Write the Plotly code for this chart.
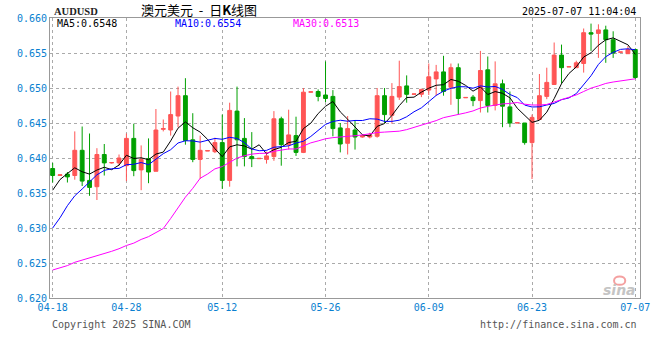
import plotly.graph_objects as go
import pandas as pd

# ---- data ----
dates = (list(pd.date_range("2025-04-18", "2025-05-03").strftime("%Y-%m-%d")) +
         list(pd.date_range("2025-05-05", "2025-07-07").strftime("%Y-%m-%d")))

opens = [0.6385, 0.6375, 0.6377, 0.6375, 0.6411, 0.6368, 0.6359, 0.6405, 0.6393, 0.6393,
         0.6389, 0.6428, 0.6383, 0.6399, 0.6381, 0.6441, 0.6440, 0.6460, 0.6489, 0.6426,
         0.6398, 0.6410, 0.6409, 0.6422, 0.6368, 0.6467, 0.6428, 0.6402, 0.6399, 0.6398,
         0.6402, 0.6456, 0.6419, 0.6432, 0.6408, 0.6494, 0.6495, 0.6490, 0.6488, 0.6443,
         0.6421, 0.6440, 0.6430, 0.6430, 0.6431, 0.6489, 0.6461, 0.6487, 0.6503, 0.6491,
         0.6491, 0.6497, 0.6513, 0.6523, 0.6501, 0.6529, 0.6486, 0.6487, 0.6482, 0.6526,
         0.6475, 0.6506, 0.6473, 0.6450, 0.6450, 0.6422, 0.6455, 0.6488, 0.6505, 0.6547,
         0.6530, 0.6529, 0.6535, 0.6579, 0.6578, 0.6583, 0.6569, 0.6551, 0.6549, 0.6555]
highs = [0.6393, 0.6376, 0.6380, 0.6438, 0.6445, 0.6435, 0.6414, 0.6420, 0.6394, 0.6405,
         0.6435, 0.6449, 0.6418, 0.6428, 0.6470, 0.6455, 0.6495, 0.6502, 0.6514, 0.6464,
         0.6432, 0.6411, 0.6429, 0.6462, 0.6479, 0.6502, 0.6457, 0.6437, 0.63995, 0.6409,
         0.6467, 0.6459, 0.6469, 0.6459, 0.6500, 0.64945, 0.6498, 0.6538, 0.6497, 0.6450,
         0.6460, 0.6454, 0.6433, 0.6436, 0.6500, 0.6500, 0.6507, 0.6539, 0.6518, 0.64915,
         0.6499, 0.6535, 0.6533, 0.6546, 0.6535, 0.6535, 0.64865, 0.6490, 0.6553, 0.6545,
         0.6538, 0.6512, 0.6495, 0.64505, 0.6450, 0.6462, 0.6520, 0.6529, 0.6565, 0.6562,
         0.65305, 0.6539, 0.6585, 0.6592, 0.6591, 0.6589, 0.6581, 0.65515, 0.6560, 0.6556]
lows = [0.6365, 0.6375, 0.6365, 0.6369, 0.6360, 0.6346, 0.6340, 0.6375, 0.6392, 0.6389,
        0.6367, 0.6374, 0.6354, 0.6364, 0.6381, 0.6438, 0.6432, 0.6444, 0.6419, 0.6394,
        0.6370, 0.6410, 0.6407, 0.6356, 0.6359, 0.6388, 0.6388, 0.6387, 0.6399, 0.6392,
        0.6396, 0.6389, 0.6412, 0.6403, 0.6407, 0.6494, 0.6481, 0.6480, 0.6431, 0.6408,
        0.6405, 0.6412, 0.6429, 0.6428, 0.6429, 0.6450, 0.6449, 0.6483, 0.6479, 0.6491,
        0.6487, 0.6490, 0.6489, 0.6489, 0.6476, 0.6462, 0.6486, 0.6474, 0.6465, 0.6465,
        0.6468, 0.6444, 0.6444, 0.6450, 0.6419, 0.6370, 0.6455, 0.6484, 0.6505, 0.6506,
        0.6530, 0.6529, 0.6522, 0.6553, 0.6543, 0.6536, 0.6543, 0.6551, 0.6549, 0.6513]
closes = [0.6375, 0.6376, 0.6373, 0.6411, 0.6367, 0.6358, 0.6405, 0.6393, 0.63935, 0.6400,
          0.6428, 0.6382, 0.6398, 0.6380, 0.6440, 0.6442, 0.6462, 0.6489, 0.6425, 0.6398,
          0.6411, 0.64105, 0.6422, 0.6368, 0.6468, 0.6426, 0.6402, 0.6399, 0.63995, 0.6403,
          0.6456, 0.6419, 0.6433, 0.6408, 0.6494, 0.64945, 0.6488, 0.6485, 0.6442, 0.6420,
          0.6442, 0.6430, 0.6432, 0.6433, 0.6489, 0.6462, 0.6488, 0.6502, 0.6491, 0.64915,
          0.6498, 0.6516, 0.6523, 0.6495, 0.6529, 0.6485, 0.64865, 0.6482, 0.6525, 0.6475,
          0.6506, 0.6474, 0.6450, 0.64505, 0.6422, 0.6458, 0.6489, 0.6508, 0.6547, 0.6529,
          0.65305, 0.6536, 0.6579, 0.6577, 0.6583, 0.6569, 0.6550, 0.65515, 0.6555, 0.6515]

# closes of the 29 days before the window (estimated so the MA lines start where drawn)
prior_closes = [0.6290, 0.6270, 0.6270, 0.6275, 0.6280, 0.6295, 0.6290, 0.6305, 0.6290, 0.6290,
                0.6280, 0.6240, 0.6260, 0.6275, 0.6260, 0.6030, 0.6030, 0.5970, 0.6020, 0.5980,
                0.6230, 0.6200, 0.6270, 0.6270, 0.6260, 0.6300, 0.6330, 0.6370, 0.6395]

tick_dates = ["2025-04-18", "2025-04-28", "2025-05-12", "2025-05-26",
              "2025-06-09", "2025-06-23", "2025-07-07"]
tick_text = ["04-18", "04-28", "05-12", "05-26", "06-09", "06-23", "07-07"]
ma_labels = ["MA5:0.6548", "MA10:0.6554", "MA30:0.6513"]
ma_windows = [5, 10, 30]
ma_colors = ["#000000", "#0000ff", "#ff00ff"]

# ---- figure ----
allc = pd.Series(prior_closes + closes)
n = len(closes)

fig = go.Figure()
fig.add_trace(go.Candlestick(
    x=dates, open=opens, high=highs, low=lows, close=closes,
    increasing=dict(line=dict(color="#ff5555", width=1), fillcolor="#ff5555"),
    decreasing=dict(line=dict(color="#00a000", width=1), fillcolor="#00a000"),
    whiskerwidth=0, hoverinfo="skip"))

for w, col in zip(ma_windows, ma_colors):
    ma = allc.rolling(w).mean().iloc[-n:].tolist()
    fig.add_trace(go.Scatter(x=dates, y=ma, mode="lines",
                             line=dict(color=col, width=1), hoverinfo="skip"))

mono = "DejaVu Sans Mono"
blue = "#0a7fd0"
fig.update_layout(
    width=660, height=360,
    margin=dict(l=50, r=10, t=18, b=62),
    paper_bgcolor="white", plot_bgcolor="white",
    showlegend=False, boxgap=0.25,
    xaxis=dict(type="category", categoryorder="array", categoryarray=dates,
               range=[-0.36, 79.64], tickmode="array", tickvals=tick_dates, ticktext=tick_text,
               showgrid=True, gridcolor="#aaaaaa", griddash="dot", gridwidth=1,
               showline=True, mirror=True, linecolor="#999999", linewidth=1,
               ticks="", tickfont=dict(family=mono, size=10, color=blue),
               rangeslider=dict(visible=False), zeroline=False),
    yaxis=dict(range=[0.620, 0.660], tick0=0.620, dtick=0.005, tickformat=".3f",
               showgrid=True, gridcolor="#aaaaaa", griddash="dot", gridwidth=1,
               showline=True, mirror=True, linecolor="#999999", linewidth=1,
               ticks="", tickfont=dict(family=mono, size=10, color=blue), zeroline=False),
)

ann = []
ann.append(dict(text="<b>AUDUSD</b>", x=0.003, y=1.023, xref="paper", yref="paper",
                xanchor="left", yanchor="middle", showarrow=False,
                font=dict(family="Liberation Serif", size=10.5, color="#222222")))
ann.append(dict(text="澳元美元\u00a0\u00a0-\u00a0\u00a0日<b>K</b>线图", x=0.2517, y=1.03,
                xref="paper", yref="paper",
                xanchor="center", yanchor="middle", showarrow=False,
                font=dict(family="Noto Sans CJK SC", size=13, color="#000000")))
ann.append(dict(text="2025-07-07 11:04:04", x=0.997, y=1.023, xref="paper", yref="paper",
                xanchor="right", yanchor="middle", showarrow=False,
                font=dict(family=mono, size=10, color="#000000")))
for lab, xp, col in zip(ma_labels, [0.0083, 0.2083, 0.4083], ma_colors):
    ann.append(dict(text=lab, x=xp, y=0.979, xref="paper", yref="paper",
                    xanchor="left", yanchor="middle", showarrow=False,
                    font=dict(family=mono, size=10, color=col)))
ann.append(dict(text="Copyright 2025 SINA.COM", x=0.0, y=-0.093, xref="paper", yref="paper",
                xanchor="left", yanchor="middle", showarrow=False,
                font=dict(family=mono, size=10, color="#555555")))
ann.append(dict(text="http://finance.sina.com.cn", x=0.998, y=-0.093, xref="paper", yref="paper",
                xanchor="right", yanchor="middle", showarrow=False,
                font=dict(family=mono, size=10, color="#555555")))
ann.append(dict(text="<b><i>sina</i></b>", x=0.997, y=0.028, xref="paper", yref="paper",
                xanchor="right", yanchor="middle", showarrow=False,
                font=dict(family="DejaVu Sans", size=14, color="#c4c4c4")))
fig.update_layout(annotations=ann)

# small pink "eye" of the sina watermark
fig.add_shape(type="circle", xref="paper", yref="paper",
              x0=0.956, x1=0.975, y0=0.047, y1=0.077,
              line=dict(color="#f4a0a0", width=2), fillcolor="rgba(0,0,0,0)", layer="above")

fig.write_html("out.html")
